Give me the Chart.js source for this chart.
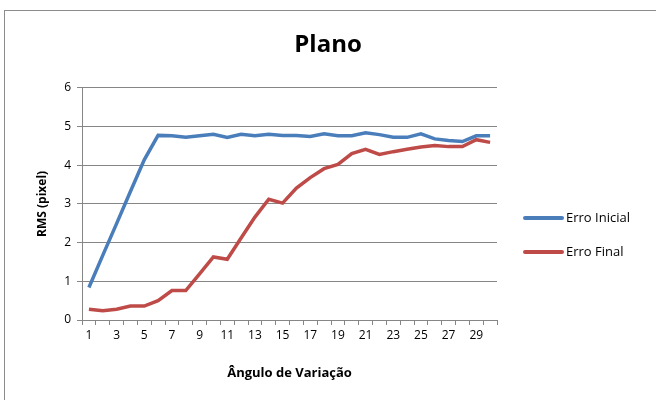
<!DOCTYPE html>
<html>
<head>
<meta charset="utf-8">
<script src="https://cdn.jsdelivr.net/npm/chart.js@4"></script>
<style>
  body { margin: 0; background: #fff; width: 656px; height: 400px; overflow: hidden; position: relative; }
  #frame { position: absolute; left: 4px; top: 10px; width: 680px; height: 420px; border: 1px solid #8c8c8c; }
  #plano { position: absolute; left: 0; top: 0; }
</style>
</head>
<body>
<div id="frame"></div>
<canvas id="plano" width="656" height="400"></canvas>
<script>
const angulos = ['1', '2', '3', '4', '5', '6', '7', '8', '9', '10', '11', '12', '13', '14', '15',
  '16', '17', '18', '19', '20', '21', '22', '23', '24', '25', '26', '27', '28', '29', '30'];
const erroInicial = [0.84, 1.67, 2.49, 3.32, 4.14, 4.77, 4.76, 4.72, 4.76, 4.8, 4.72, 4.8, 4.76, 4.8, 4.77,
  4.77, 4.74, 4.81, 4.76, 4.76, 4.84, 4.79, 4.72, 4.72, 4.81, 4.68, 4.64, 4.61, 4.76, 4.76];
const erroFinal = [0.28, 0.24, 0.28, 0.36, 0.36, 0.5, 0.76, 0.76, 1.19, 1.63, 1.57, 2.12, 2.66, 3.12, 3.02,
  3.41, 3.68, 3.91, 4.02, 4.3, 4.41, 4.28, 4.35, 4.41, 4.47, 4.51, 4.48, 4.48, 4.66, 4.59];

const FONT = '"Open Sans", sans-serif';

// legend drawn next to the plot, like the spreadsheet one
const sideLegend = {
  id: 'sideLegend',
  afterDraw(chart) {
    const ctx = chart.ctx;
    const x0 = 525, x1 = 562;
    const rows = [218, 252];
    chart.data.datasets.forEach((ds, i) => {
      const y = rows[i];
      ctx.save();
      ctx.strokeStyle = ds.borderColor;
      ctx.lineWidth = 4;
      ctx.lineCap = 'round';
      ctx.beginPath();
      ctx.moveTo(x0, y);
      ctx.lineTo(x1, y);
      ctx.stroke();
      ctx.fillStyle = '#000';
      ctx.font = '13px ' + FONT;
      ctx.textBaseline = 'middle';
      ctx.fillText(ds.label, 566, y);
      ctx.restore();
    });
  }
};

new Chart(document.getElementById('plano'), {
  type: 'line',
  data: {
    labels: angulos,
    datasets: [
      { label: 'Erro Inicial', data: erroInicial, borderColor: '#4A7EBB', borderWidth: 3.5, pointRadius: 0, tension: 0 },
      { label: 'Erro Final', data: erroFinal, borderColor: '#BE4B48', borderWidth: 3.5, pointRadius: 0, tension: 0 }
    ]
  },
  options: {
    responsive: false,
    animation: false,
    layout: { padding: 0 },
    plugins: {
      legend: { display: false },
      tooltip: { enabled: false },
      title: {
        display: true,
        text: 'Plano',
        color: '#000',
        font: { family: FONT, size: 24, weight: 'bold' },
        padding: { top: 31, bottom: 28 }
      }
    },
    scales: {
      x: {
        offset: true,
        grid: { offset: true, drawOnChartArea: false, color: '#868686', tickLength: 5 },
        border: { color: '#868686' },
        ticks: {
          autoSkip: false,
          maxRotation: 0,
          color: '#000',
          font: { family: FONT, size: 12 },
          padding: 3,
          callback: (v, i) => (i % 2 === 0 ? angulos[i] : '')
        },
        title: {
          display: true,
          text: 'Ângulo de Variação',
          color: '#000',
          font: { family: FONT, size: 13, weight: 'bold' },
          padding: { top: 6, bottom: 19 }
        },
        afterFit: (s) => { s.height = 80; }
      },
      y: {
        min: 0,
        max: 6,
        ticks: { stepSize: 1, color: '#000', font: { family: FONT, size: 12 }, padding: 6 },
        grid: { color: '#868686', tickLength: 5 },
        border: { color: '#868686' },
        title: {
          display: true,
          text: 'RMS (pixel)',
          color: '#000',
          font: { family: FONT, size: 12, weight: 'bold' },
          padding: { top: 35, bottom: 0 }
        },
        afterFit: (s) => { s.width = 82; }
      },
      // empty right-hand scale that only keeps room for the legend
      legendRoom: {
        type: 'linear',
        position: 'right',
        grid: { display: false },
        border: { display: false },
        ticks: { display: false },
        afterFit: (s) => { s.width = 159; }
      }
    }
  },
  plugins: [sideLegend]
});
</script>
</body>
</html>
